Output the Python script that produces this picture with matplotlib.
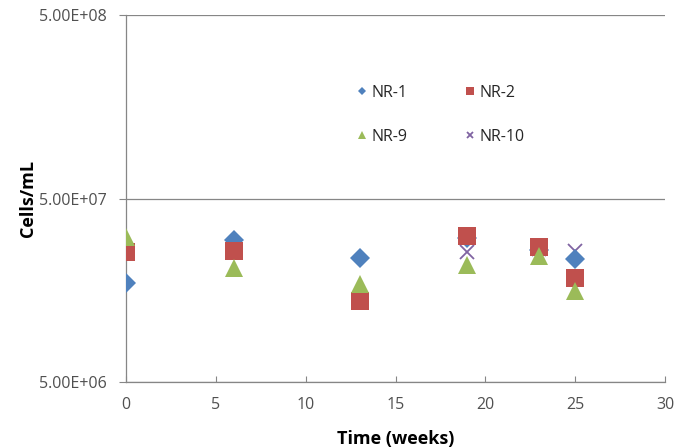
import matplotlib
matplotlib.use("Agg")
import matplotlib.pyplot as plt
from matplotlib.ticker import FixedLocator, FixedFormatter, NullLocator

plt.rcParams['font.family'] = ['Open Sans', 'DejaVu Sans']

weeks = [0, 6, 13, 19, 23, 25]
nr1 = [1.74e7, 2.96e7, 2.38e7, 3.05e7, 2.62e7, 2.33e7]
nr2 = [2.54e7, 2.60e7, 1.39e7, 3.14e7, 2.71e7, 1.85e7]
nr9 = [3.10e7, 2.08e7, 1.72e7, 2.18e7, 2.42e7, 1.56e7]
nr10 = [2.54e7, 2.60e7, 1.39e7, 2.54e7, 2.65e7, 2.60e7]

series = [
    ("NR-1", nr1, "D", "#4F81BD", 10, 3),
    ("NR-2", nr2, "s", "#C0504D", 12.5, 4),
    ("NR-9", nr9, "^", "#9BBB59", 13, 5),
    ("NR-10", nr10, "x", "#8064A2", 10, 2.5),
]

yticks = [5e6, 5e7, 5e8]
ylabels = ["5.00E+06", "5.00E+07", "5.00E+08"]
xticks = [0, 5, 10, 15, 20, 25, 30]

fig = plt.figure(figsize=(6.75, 4.48), dpi=100)
ax = fig.add_axes([126/675, 1-382/448, (665-126)/675, (382-15)/448])

handles = {}
for name, vals, m, c, s, z in series:
    if m == "x":
        h = ax.plot(weeks, vals, linestyle="none", marker=m, markersize=s,
                    color=c, markeredgewidth=1.3, label=name, zorder=z)[0]
    else:
        h = ax.plot(weeks, vals, linestyle="none", marker=m, markersize=s,
                    color=c, markeredgewidth=0, label=name, zorder=z)[0]
    handles[name] = h

ax.set_yscale("log")
ax.set_ylim(5e6, 5e8)
ax.set_xlim(0, 30)
ax.yaxis.set_major_locator(FixedLocator(yticks))
ax.yaxis.set_major_formatter(FixedFormatter(ylabels))
ax.yaxis.set_minor_locator(NullLocator())
ax.set_xticks(xticks)
ax.set_xticklabels([str(x) for x in xticks])

ax.grid(axis="y", color="#868686", linewidth=0.9)
ax.set_axisbelow(True)
for sp in ["top", "right"]:
    ax.spines[sp].set_visible(False)
for sp in ["left", "bottom"]:
    ax.spines[sp].set_color("#868686")
    ax.spines[sp].set_linewidth(0.9)

ax.tick_params(axis="y", direction="out", length=5, color="#868686",
               labelsize=11.5, labelcolor="#505050", pad=9)
ax.tick_params(axis="x", direction="in", length=4, color="#868686",
               labelsize=11.5, labelcolor="#505050", pad=11)

ax.set_ylabel("Cells/mL", fontsize=13, fontweight="bold", labelpad=1)
ax.set_xlabel("Time (weeks)", fontsize=13, fontweight="bold", labelpad=12)

order = ["NR-1", "NR-9", "NR-2", "NR-10"]
leg = ax.legend(handles=[handles[k] for k in order], ncol=2, loc="upper left",
                bbox_to_anchor=((357-126)/539, 1-(85-15)/367),
                frameon=False, fontsize=11.5, markerscale=0.42,
                handlelength=0.6, handletextpad=0.3, columnspacing=3.6,
                labelspacing=1.75, borderpad=0, borderaxespad=0)
for t in leg.get_texts():
    t.set_color("#262626")

fig.savefig("out.png", dpi=100)
